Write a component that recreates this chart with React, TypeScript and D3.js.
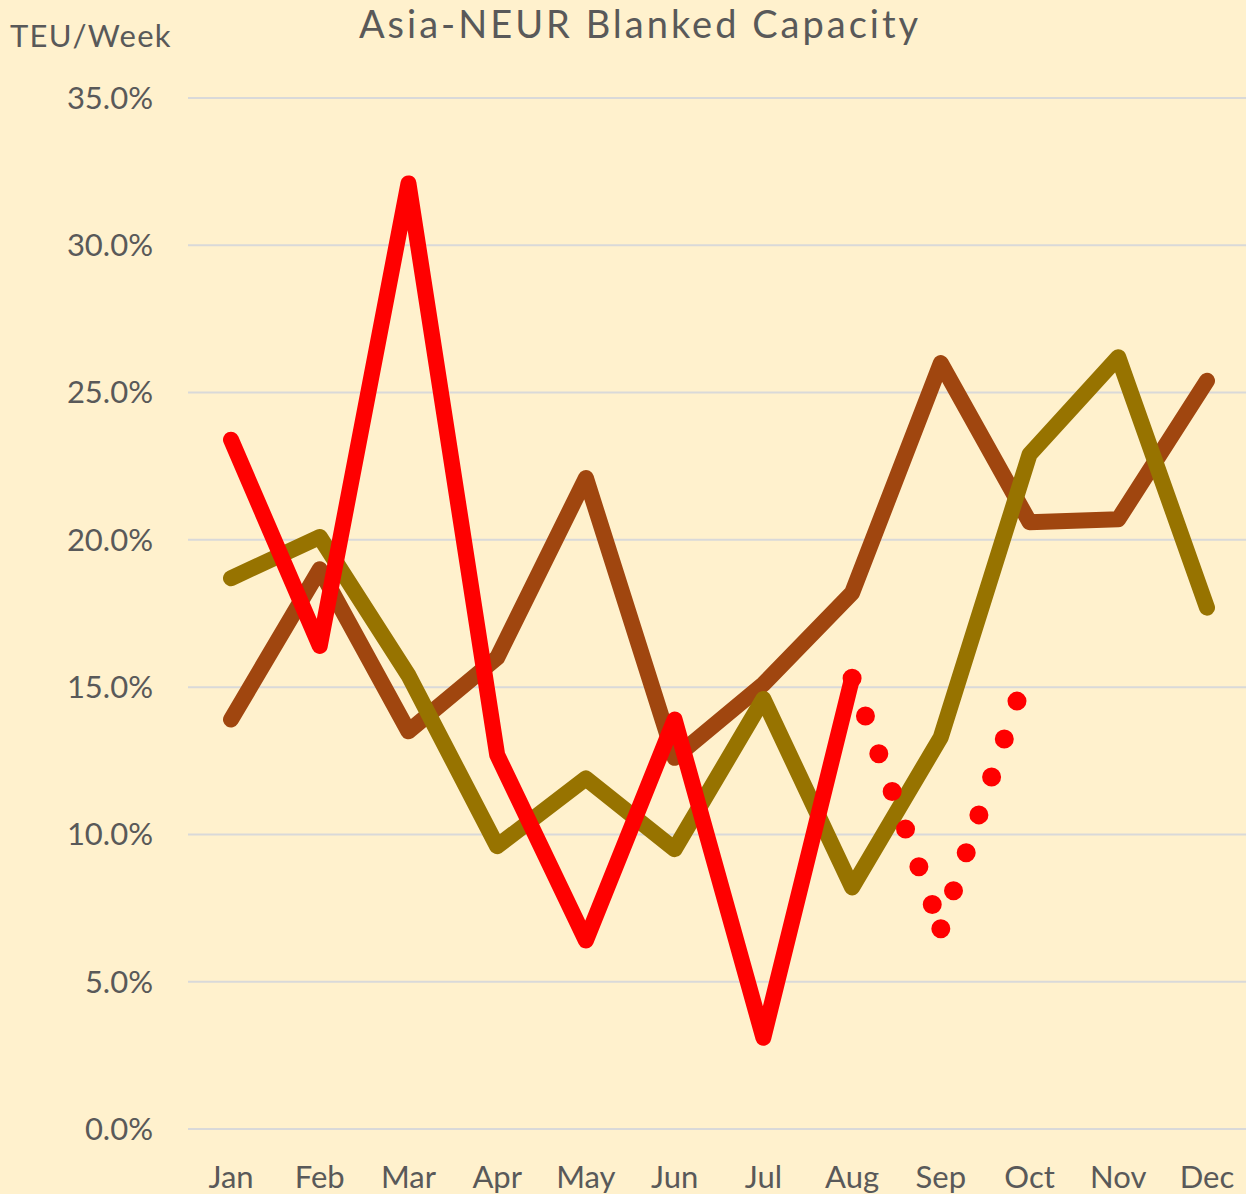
import React from 'react'
import * as d3 from 'd3'

const months = ['Jan', 'Feb', 'Mar', 'Apr', 'May', 'Jun', 'Jul', 'Aug', 'Sep', 'Oct', 'Nov', 'Dec']
const brownValues = [13.9, 19.0, 13.5, 16.0, 22.1, 12.6, 15.1, 18.2, 26.0, 20.6, 20.7, 25.4]
const oliveValues = [18.7, 20.1, 15.4, 9.6, 11.9, 9.5, 14.6, 8.2, 13.3, 22.9, 26.2, 17.7]
const redValues = [23.4, 16.4, 32.1, 12.7, 6.4, 13.9, 3.1, 15.3]
const forecastMonths = ['Aug', 'Sep', 'Oct']
const forecastValues = [15.3, 6.8, 15.8]
const yTicks = [0, 5, 10, 15, 20, 25, 30, 35]

const width = 1246
const height = 1194
const textColor = '#595959'
const font = 'Lato, "Open Sans", sans-serif'

export default function App() {
  const x = d3.scalePoint<string>().domain(months).range([231, 1207])
  const y = d3.scaleLinear().domain([0, 35]).range([1129, 98])

  const line = d3.line<[string, number]>()
    .x(d => x(d[0]) as number)
    .y(d => y(d[1]))

  const series = [
    { name: 'brown', color: '#A0460F', data: months.map((m, i) => [m, brownValues[i]] as [string, number]) },
    { name: 'olive', color: '#977300', data: months.map((m, i) => [m, oliveValues[i]] as [string, number]) },
    { name: 'red', color: '#FF0000', data: redValues.map((v, i) => [months[i], v] as [string, number]) }
  ]
  const forecast = forecastMonths.map((m, i) => [m, forecastValues[i]] as [string, number])
  // dotted pattern restarts at every point, so draw segment by segment
  const forecastSegments = d3.pairs(forecast)

  return (
    <svg width={width} height={height} style={{ position: 'absolute', left: 0, top: 0 }}>
      <rect width={width} height={height} fill="#FFF1CD" />
      <text x={640} y={38} textAnchor="middle" fontFamily={font} fontSize={38} letterSpacing={3} fill={textColor}>
        Asia-NEUR Blanked Capacity
      </text>
      <text x={10} y={47} fontFamily={font} fontSize={31} letterSpacing={1.3} fill={textColor}>TEU/Week</text>

      {/* gridlines + y labels */}
      {yTicks.map(t => (
        <g key={t}>
          <line x1={188} x2={width} y1={y(t)} y2={y(t)} stroke="#D9D9D9" strokeWidth={2} />
          <text x={153} y={y(t)} dy="0.35em" textAnchor="end" fontFamily={font} fontSize={31} fill={textColor}>
            {t.toFixed(1) + '%'}
          </text>
        </g>
      ))}

      {/* x labels */}
      {months.map(m => (
        <text key={m} x={x(m)} y={1188} textAnchor="middle" fontFamily={font} fontSize={31} fill={textColor}>
          {m}
        </text>
      ))}

      {series.map(s => (
        <path key={s.name} d={line(s.data) || ''} fill="none" stroke={s.color} strokeWidth={16}
          strokeLinejoin="round" strokeLinecap="round" />
      ))}

      {forecastSegments.map((seg, i) => (
        <path key={i} d={line(seg) || ''} fill="none" stroke="#FF0000" strokeWidth={19}
          strokeDasharray="0 40" strokeLinecap="round" />
      ))}
    </svg>
  )
}
